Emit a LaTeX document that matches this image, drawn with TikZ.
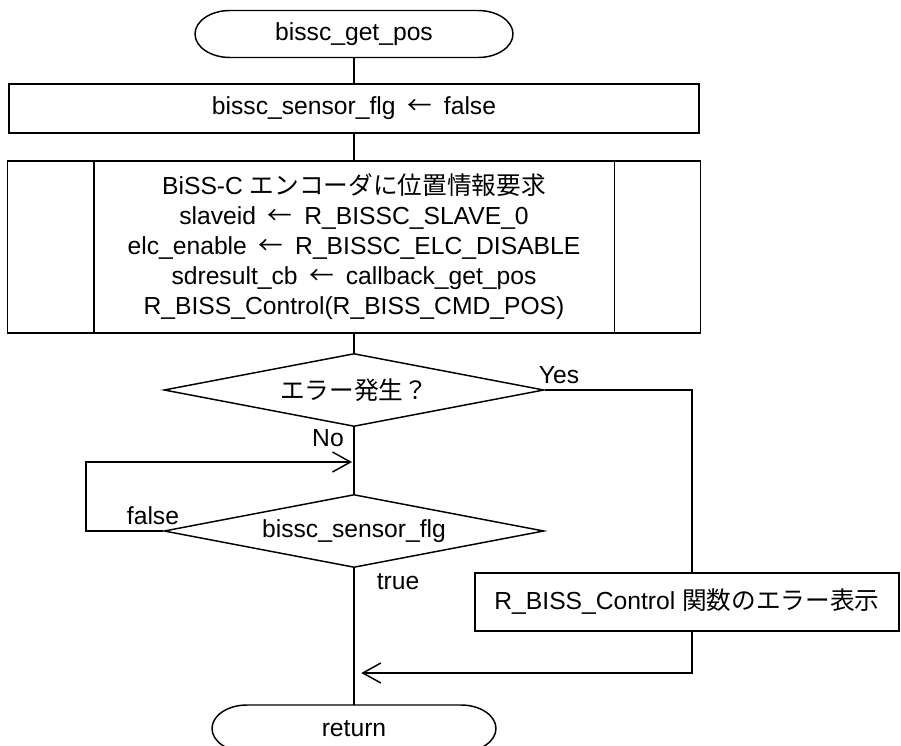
\documentclass[tikz,border=0pt]{standalone}
\usepackage{fontspec}
\setmainfont{Liberation Sans}
\newfontfamily\jpfont{Noto Sans CJK JP}
\newcommand{\ja}[1]{{\jpfont #1}}
\newcommand{\asgn}{\hspace{0.2em} \ja{←} \hspace{0.2em}}
\newcommand{\termline}[1]{\draw ([xshift=26.25pt]#1.north west)
  -- ([xshift=-26.25pt]#1.north east)
  arc[start angle=90,end angle=-90,x radius=26.25pt,y radius=17.625pt]
  -- ([xshift=26.25pt]#1.south west)
  arc[start angle=270,end angle=90,x radius=26.25pt,y radius=17.625pt]
  -- cycle;}
\usetikzlibrary{shapes.geometric,arrows.meta}

\begin{document}
\begin{tikzpicture}[x=0.75pt,y=-0.75pt,line width=1.1pt,
  font=\fontsize{18.5}{22.5}\selectfont,
  term/.style={rectangle,minimum height=35.25pt,inner sep=0pt,outer sep=0pt},
  proc/.style={draw,rectangle,inner sep=0pt,align=center},
  dec/.style={draw,diamond,aspect=5.2,minimum width=285pt,
    minimum height=54.75pt,inner sep=0pt},
  arr/.style={-{Straight Barb[length=13.5pt,width=15pt]}}]
  \useasboundingbox (0,0) rectangle (901,746);
  \node[term,minimum width=238.5pt] (start) at (354,34) {bissc\_get\_pos};
  \termline{start}
  \node[proc,minimum width=517.5pt,minimum height=36.75pt] (flg)
    at (354,108.5) {bissc\_sensor\_flg\asgn false};
  \node[proc,minimum width=519.75pt,minimum height=129pt] (req) at (354,247)
    {BiSS-C \ja{エンコーダに位置情報要求}\\
     slaveid\asgn R\_BISSC\_SLAVE\_0\\
     elc\_enable\asgn R\_BISSC\_ELC\_DISABLE\\
     sdresult\_cb\asgn callback\_get\_pos\\
     R\_BISS\_Control(R\_BISS\_CMD\_POS)};
  \draw ([xshift=65.25pt]req.north west) -- ([xshift=65.25pt]req.south west);
  \draw ([xshift=-65.25pt]req.north east) -- ([xshift=-65.25pt]req.south east);
  \node[dec] (err) at (354,390) {\ja{エラー発生？}};
  \node[dec] (sens) at (354,531) {bissc\_sensor\_flg};
  \node[proc,minimum width=318pt,minimum height=43.5pt] (msg) at (687,602)
    {R\_BISS\_Control \ja{関数のエラー表示}};
  \node[term,minimum width=213pt] (ret) at (354,728.5) {return};
  \termline{ret}

  \coordinate (rx) at (692,0);
  \coordinate (lx) at (86,0);
  \coordinate (loop) at (354,462);
  \coordinate (back) at (354,673);

  \draw (start) -- (flg);
  \draw (flg) -- (req);
  \draw (req) -- (err);
  \draw (err) -- (sens);
  \draw (sens) -- (ret);
  \draw[arr,shorten >=1.5pt] (sens.west) -- (sens.west -| lx) |- (loop);
  \draw (err.east) -- (err.east -| rx) -- (msg.north -| rx);
  \draw[arr,shorten >=5.5pt] (msg.south -| rx) |- (back);

  \node (yes) at (559,375) {Yes};
  \node (no) at (328,438) {No};
  \node (fls) at (153,516) {false};
  \node (tru) at (398,582) {true};
\end{tikzpicture}
\end{document}
